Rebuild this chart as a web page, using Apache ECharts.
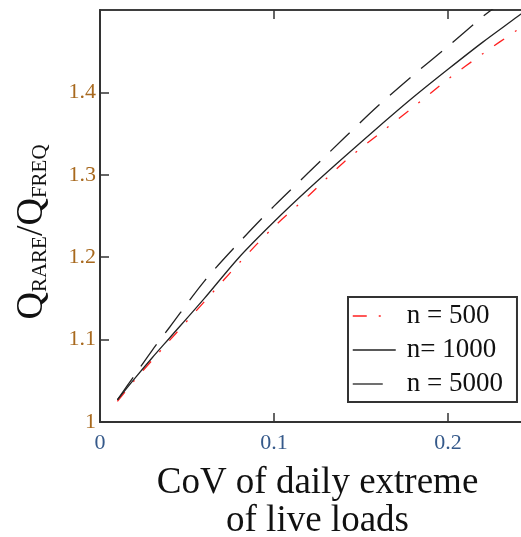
<!DOCTYPE html>
<html>
<head>
<meta charset="utf-8">
<script src="https://cdn.jsdelivr.net/npm/echarts@6/dist/echarts.min.js"></script>
<style>html,body{margin:0;padding:0;background:#fff}#c{width:521px;height:537px}</style>
</head>
<body>
<div id="c"></div>
<script>
// CoV of daily extreme of live loads
var covX    = [0.01, 0.02, 0.03, 0.04, 0.06, 0.08, 0.10, 0.12, 0.14, 0.16, 0.18, 0.20, 0.22, 0.24, 0.25];
var n500    = [1.025, 1.051, 1.075, 1.099, 1.146, 1.193, 1.237, 1.275, 1.315, 1.349, 1.382, 1.416, 1.447, 1.476, 1.490];
var n1000   = [1.027, 1.053, 1.078, 1.102, 1.150, 1.200, 1.243, 1.283, 1.321, 1.358, 1.394, 1.428, 1.461, 1.492, 1.508];
var covX5k  = [0.01, 0.02, 0.03, 0.04, 0.06, 0.08, 0.10, 0.12, 0.14, 0.16, 0.18, 0.20, 0.22, 0.23];
var n5000   = [1.027, 1.057, 1.087, 1.115, 1.171, 1.218, 1.262, 1.303, 1.344, 1.384, 1.421, 1.456, 1.492, 1.508];
var seriesNames = ['n = 500', 'n= 1000', 'n = 5000'];

function pairs(xs, ys) { return xs.map(function (x, i) { return [x, ys[i]]; }); }

var serif = '"Liberation Serif", "DejaVu Serif", serif';
var chart = echarts.init(document.getElementById('c'));
chart.setOption({
  animation: false,
  grid: { left: 100, top: 10, width: 435, height: 412, outerBoundsMode: 'none', containLabel: false,
          show: true, borderColor: '#333', borderWidth: 1.5, backgroundColor: 'transparent' },
  xAxis: [{
    type: 'value', min: 0, max: 0.25, interval: 0.1,
    axisLine: { show: true, onZero: false, lineStyle: { color: '#333', width: 2 } },
    axisTick: { show: true, inside: true, length: 9, lineStyle: { color: '#333', width: 1.5 } },
    axisLabel: { margin: 10, fontFamily: serif, fontSize: 22, color: '#35598a', showMaxLabel: false },
    splitLine: { show: false },
    name: 'CoV of daily extreme\nof live loads', nameLocation: 'middle', nameGap: 42,
    nameTextStyle: { fontFamily: serif, fontSize: 37, lineHeight: 38, color: '#111' }
  }, {
    type: 'value', position: 'top', min: 0, max: 0.25, interval: 0.1,
    axisLine: { show: true, onZero: false, lineStyle: { color: '#333', width: 1.5 } },
    axisTick: { show: true, inside: true, length: 9, lineStyle: { color: '#333', width: 1.5 } },
    axisLabel: { show: false }, splitLine: { show: false }
  }],
  yAxis: {
    type: 'value', min: 1, max: 1.5, interval: 0.1,
    axisLine: { show: true, onZero: false, lineStyle: { color: '#333', width: 2 } },
    axisTick: { show: true, inside: true, length: 9, lineStyle: { color: '#333', width: 1.5 } },
    axisLabel: { margin: 4, fontFamily: serif, fontSize: 22, color: '#a8691e', showMaxLabel: false },
    splitLine: { show: false }
  },
  legend: {
    orient: 'vertical', left: 348, top: 297,
    data: [
      { name: seriesNames[0], lineStyle: { type: [14, 12, 2, 20], width: 1.5 } },
      { name: seriesNames[1], lineStyle: { type: 'solid', width: 1.3 } },
      { name: seriesNames[2], lineStyle: { type: [30, 20], width: 1.3 } }
    ],
    itemWidth: 43, itemHeight: 14, itemGap: 6,
    padding: [5, 14, 4, 4],
    borderColor: '#333', borderWidth: 2,
    itemStyle: { opacity: 0 },
    textStyle: { fontFamily: serif, fontSize: 27, lineHeight: 28, color: '#111', padding: [0, 0, 0, 6] }
  },
  graphic: [{
    type: 'text', x: 30, y: 232, rotation: Math.PI / 2,
    style: {
      text: '{q|Q}{s|RARE}{q|/Q}{s|FREQ}',
      align: 'center', verticalAlign: 'middle',
      rich: {
        q: { fontFamily: serif, fontSize: 38, lineHeight: 42, verticalAlign: 'bottom', fill: '#111' },
        s: { fontFamily: serif, fontSize: 21, lineHeight: 42, verticalAlign: 'bottom', fill: '#111' }
      }
    }
  }],
  series: [{
    name: seriesNames[0], type: 'line', data: pairs(covX, n500), showSymbol: false, symbol: 'none', smooth: 0.3,
    lineStyle: { color: '#ff2020', width: 1.3, type: [12, 13, 2, 13] }, itemStyle: { color: '#ff2020' }
  }, {
    name: seriesNames[1], type: 'line', data: pairs(covX, n1000), showSymbol: false, symbol: 'none', smooth: 0.3,
    lineStyle: { color: '#222', width: 1.3, type: 'solid' }, itemStyle: { color: '#222' }
  }, {
    name: seriesNames[2], type: 'line', data: pairs(covX5k, n5000), showSymbol: false, symbol: 'none', smooth: 0.3,
    lineStyle: { color: '#222', width: 1.3, type: [27, 14] }, itemStyle: { color: '#222' }
  }]
});
</script>
</body>
</html>
